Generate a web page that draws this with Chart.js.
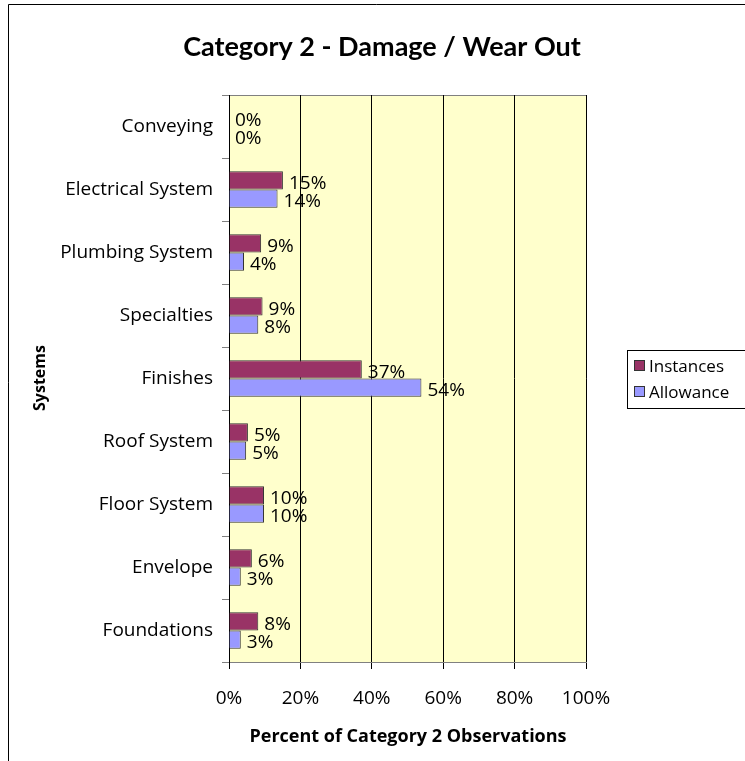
<!DOCTYPE html>
<html>
<head>
<meta charset="utf-8">
<script src="https://cdn.jsdelivr.net/npm/chart.js@4/dist/chart.umd.min.js"></script>
<style>
  html, body { margin: 0; padding: 0; background: #fff; }
  #wrap { width: 745px; height: 761px; position: relative; }
</style>
</head>
<body>
<div id="wrap"><canvas id="c" width="745" height="761"></canvas></div>
<script>
const categories = ["Conveying", "Electrical System", "Plumbing System", "Specialties", "Finishes", "Roof System", "Floor System", "Envelope", "Foundations"];
const instances = [0, 15.1, 9.0, 9.4, 37.2, 5.3, 9.8, 6.4, 8.2];
const allowance = [0, 13.6, 4.2, 8.2, 53.9, 4.8, 9.8, 3.3, 3.3];
const xTicks = [0, 20, 40, 60, 80, 100];
const seriesNames = ["Instances", "Allowance"];
const chartTitle = "Category 2 - Damage / Wear Out";
const xTitle = "Percent of Category 2 Observations";
const yTitle = "Systems";

const FONT = "'Open Sans'";
const TFONT = "Lato";
const colInst = "#993366", colAllow = "#9999FF";

const decor = {
  id: "decor",
  beforeDraw(chart) {
    const { ctx, chartArea: a } = chart;
    ctx.save();
    ctx.fillStyle = "#FFFFCC";
    ctx.fillRect(a.left, a.top, a.right - a.left, a.bottom - a.top);
    ctx.strokeStyle = "#808080";
    ctx.lineWidth = 1;
    ctx.strokeRect(a.left + 0.5, a.top + 0.5, a.right - a.left, a.bottom - a.top);
    ctx.restore();
  },
  afterDraw(chart) {
    const { ctx } = chart;
    ctx.save();
    ctx.strokeStyle = "#000";
    ctx.lineWidth = 1;
    ctx.beginPath();
    ctx.moveTo(8.5, 761); ctx.lineTo(8.5, 4.5); ctx.lineTo(745, 4.5);
    ctx.stroke();
    ctx.fillStyle = "#000";
    ctx.textAlign = "center";
    ctx.textBaseline = "middle";
    ctx.font = "bold 27px " + TFONT;
    ctx.fillText(chartTitle, 382, 47);
    ctx.font = "bold 18px " + FONT;
    ctx.fillText(xTitle, 408, 737);
    ctx.save();
    ctx.translate(40, 378);
    ctx.rotate(-Math.PI / 2);
    ctx.font = "bold 16px " + FONT;
    ctx.fillText(yTitle, 0, 0);
    ctx.restore();
    ctx.font = "19px " + FONT;
    ctx.textAlign = "left";
    chart.data.datasets.forEach((ds, di) => {
      const meta = chart.getDatasetMeta(di);
      meta.data.forEach((el, i) => {
        ctx.fillText(Math.round(ds.data[i]) + "%", el.x + 6, el.y + 3);
      });
    });
    ctx.strokeStyle = "#000";
    ctx.strokeRect(627.5, 350.5, 130, 58);
    const items = [[seriesNames[0], colInst, 366], [seriesNames[1], colAllow, 392]];
    items.forEach(([name, col, y]) => {
      ctx.fillStyle = col;
      ctx.fillRect(634, y - 6, 11, 11);
      ctx.strokeStyle = "#333";
      ctx.strokeRect(634.5, y - 5.5, 10, 10);
      ctx.fillStyle = "#000";
      ctx.font = "17px " + FONT;
      ctx.textBaseline = "middle";
      ctx.fillText(name, 649, y + 1);
    });
    ctx.restore();
  }
};

new Chart(document.getElementById("c"), {
  type: "bar",
  data: {
    labels: categories,
    datasets: [
      { label: seriesNames[0], data: instances, backgroundColor: colInst, borderColor: "#333", borderWidth: 1, barPercentage: 1, categoryPercentage: 0.58 },
      { label: seriesNames[1], data: allowance, backgroundColor: colAllow, borderColor: "#333", borderWidth: 1, barPercentage: 1, categoryPercentage: 0.58 }
    ]
  },
  options: {
    indexAxis: "y",
    responsive: false,
    animation: false,
    layout: { padding: { top: 95, right: 159, left: 0, bottom: 0 } },
    plugins: { legend: { display: false }, title: { display: false }, tooltip: { enabled: false } },
    scales: {
      x: {
        min: 0, max: 100,
        afterBuildTicks(s) { s.ticks = xTicks.map(v => ({ value: v })); },
        afterFit(s) { s.height = 99; },
        ticks: { callback: v => v + "%", color: "#000", font: { family: "Open Sans", size: 19 }, padding: 18, maxRotation: 0 },
        grid: { color: "#000", tickLength: 7, tickColor: "#000" },
        border: { color: "#808080" }
      },
      y: {
        afterFit(s) { s.width = 229; },
        ticks: { color: "#000", font: { family: "Open Sans", size: 19 }, padding: 9 },
        grid: { drawOnChartArea: false, tickLength: 7, color: "#808080", offset: true },
        border: { color: "#000" }
      }
    }
  },
  plugins: [decor]
});
</script>
</body>
</html>
